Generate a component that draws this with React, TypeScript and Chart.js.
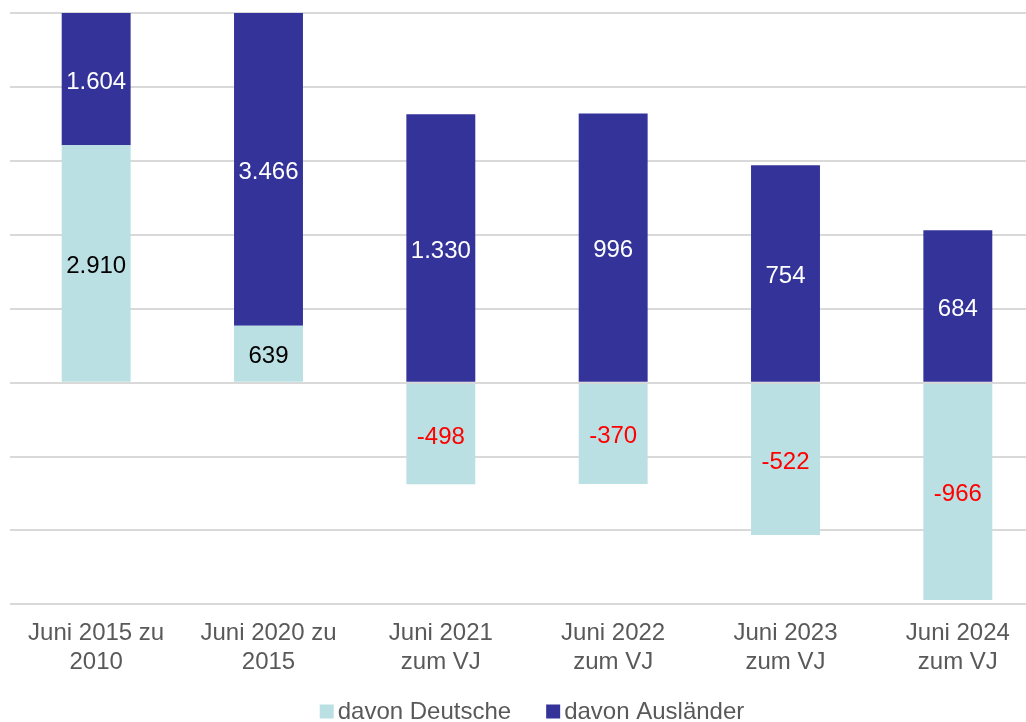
import React, { useEffect, useRef } from "react";
import { Chart, registerables } from "chart.js";

Chart.register(...registerables);

const categories: string[][] = [
  ["Juni 2015 zu", "2010"],
  ["Juni 2020 zu", "2015"],
  ["Juni 2021", "zum VJ"],
  ["Juni 2022", "zum VJ"],
  ["Juni 2023", "zum VJ"],
  ["Juni 2024", "zum VJ"],
];

// Bar heights as drawn (axis units, one gridline = 1)
const heightDeutsche: number[] = [3.21, 0.77, -1.375, -1.37, -2.06, -2.94];
const heightAuslaender: number[] = [2.4, 5.0, 3.63, 3.64, 2.94, 2.06];

// Values shown as labels
const labelDeutsche: string[] = ["2.910", "639", "-498", "-370", "-522", "-966"];
const labelAuslaender: string[] = ["1.604", "3.466", "1.330", "996", "754", "684"];

const seriesNames: string[] = ["davon Deutsche", "davon Ausländer"];
const yMin = -3;
const yMax = 5;

const FONT = "'Liberation Sans', Arial, sans-serif";
const COLOR_D = "#BAE0E3";
const COLOR_A = "#333399";
const TEXT = "#595959";

const labelPlugin = {
  id: "barLabels",
  afterDatasetsDraw(chart: any) {
    const ctx = chart.ctx;
    const area = chart.chartArea;
    const labels = [labelDeutsche, labelAuslaender];
    ctx.save();
    ctx.font = `24px ${FONT}`;
    ctx.textAlign = "center";
    ctx.textBaseline = "middle";
    chart.data.datasets.forEach((ds: any, di: number) => {
      const meta = chart.getDatasetMeta(di);
      meta.data.forEach((el: any, i: number) => {
        const top = Math.max(Math.min(el.y, el.base), area.top);
        const bot = Math.min(Math.max(el.y, el.base), area.bottom);
        const cy = (top + bot) / 2;
        const v = ds.data[i];
        let color = "#ffffff";
        if (di === 0) color = v < 0 ? "#FF0000" : "#000000";
        ctx.fillStyle = color;
        ctx.fillText(labels[di][i], el.x, cy + 3);
      });
    });
    ctx.restore();
  },
};

const legendPlugin = {
  id: "customLegend",
  afterDraw(chart: any) {
    const ctx = chart.ctx;
    const ds = chart.data.datasets;
    const box = 14;
    const gap = 4;
    const itemGap = 35;
    ctx.save();
    ctx.font = `24px ${FONT}`;
    ctx.textBaseline = "middle";
    ctx.textAlign = "left";
    const widths = ds.map((d: any) => ctx.measureText(d.label).width);
    let total = 0;
    widths.forEach((w: number, i: number) => {
      total += box + gap + w + (i < widths.length - 1 ? itemGap : 0);
    });
    const cx = (chart.chartArea.left + chart.chartArea.right) / 2 + 5;
    let x = cx - total / 2;
    const cy = 712;
    ds.forEach((d: any, i: number) => {
      ctx.fillStyle = d.backgroundColor;
      ctx.fillRect(x, cy - box / 2 - 0.5, box, box);
      x += box + gap;
      ctx.fillStyle = TEXT;
      ctx.fillText(d.label, x, cy);
      x += widths[i] + itemGap;
    });
    ctx.restore();
  },
};

export default function App() {
  const ref = useRef<HTMLCanvasElement | null>(null);
  useEffect(() => {
    if (!ref.current) return;
    const chart = new Chart(ref.current, {
      type: "bar",
      data: {
        labels: categories,
        datasets: [
          {
            label: seriesNames[0],
            data: heightDeutsche,
            backgroundColor: COLOR_D,
            borderWidth: 0,
          },
          {
            label: seriesNames[1],
            data: heightAuslaender,
            backgroundColor: COLOR_A,
            borderWidth: 0,
          },
        ],
      },
      options: {
        responsive: false,
        animation: false,
        devicePixelRatio: 1,
        layout: { padding: { left: 10, right: 10, top: 13, bottom: 30.8 } },
        datasets: {
          bar: { categoryPercentage: 1, barPercentage: 0.4 },
        },
        scales: {
          x: {
            stacked: true,
            grid: { display: false, drawTicks: false },
            border: { display: false },
            ticks: {
              color: TEXT,
              font: { family: FONT, size: 24, lineHeight: 1.2 },
              padding: 14.6,
              maxRotation: 0,
              autoSkip: false,
            },
          },
          y: {
            stacked: true,
            min: yMin,
            max: yMax,
            grid: { color: "#D9D9D9", lineWidth: 2, drawTicks: false },
            border: { display: false },
            ticks: { display: false, stepSize: 1 },
          },
        },
        plugins: {
          legend: { display: false },
          tooltip: { enabled: false },
        },
      },
      plugins: [labelPlugin, legendPlugin],
    });
    return () => chart.destroy();
  }, []);
  return (
    <div
      style={{
        position: "absolute",
        left: 0,
        top: 0,
        width: 1026,
        height: 722,
        overflow: "hidden",
        background: "#fff",
      }}
    >
      <canvas ref={ref} width={1054} height={722} style={{ display: "block" }} />
    </div>
  );
}
